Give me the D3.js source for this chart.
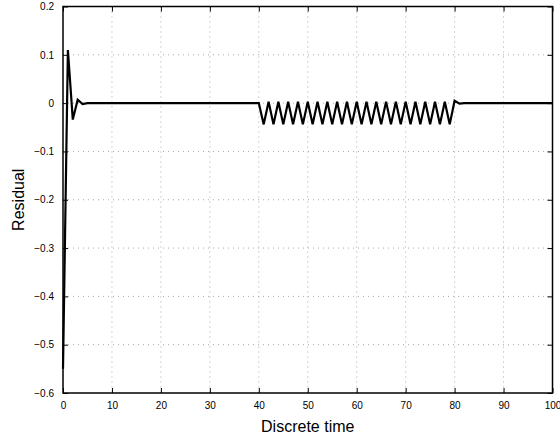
<!DOCTYPE html>
<html>
<head>
<meta charset="utf-8">
<script src="https://cdn.jsdelivr.net/npm/d3@7"></script>
<style>
  body { margin: 0; background: #fff; }
  svg { display: block; font-family: "Liberation Sans", Arial, sans-serif; }
</style>
</head>
<body>
<svg id="chart" width="560" height="441"></svg>
<script>
// residual r(k), k = 0..100
const time = d3.range(0, 101);
const residual = [
  -0.55, 0.11, -0.034, 0.007, -0.002, 0.0, 0.0, 0.0, 0.0, 0.0,
  0.0, 0.0, 0.0, 0.0, 0.0, 0.0, 0.0, 0.0, 0.0, 0.0,
  0.0, 0.0, 0.0, 0.0, 0.0, 0.0, 0.0, 0.0, 0.0, 0.0,
  0.0, 0.0, 0.0, 0.0, 0.0, 0.0, 0.0, 0.0, 0.0, 0.0,
  0.0, -0.044, 0.003, -0.044, 0.003, -0.044, 0.003, -0.044, 0.003, -0.044,
  0.003, -0.044, 0.003, -0.044, 0.003, -0.044, 0.003, -0.044, 0.003, -0.044,
  0.003, -0.044, 0.003, -0.044, 0.003, -0.044, 0.003, -0.044, 0.003, -0.044,
  0.003, -0.044, 0.003, -0.044, 0.003, -0.044, 0.003, -0.044, 0.003, -0.044,
  0.005, -0.001, 0.0, 0.0, 0.0, 0.0, 0.0, 0.0, 0.0, 0.0,
  0.0, 0.0, 0.0, 0.0, 0.0, 0.0, 0.0, 0.0, 0.0, 0.0,
  0.0
];
const xTicks = [0, 10, 20, 30, 40, 50, 60, 70, 80, 90, 100];
const yTicks = [-0.6, -0.5, -0.4, -0.3, -0.2, -0.1, 0, 0.1, 0.2];

const svg = d3.select("#chart");
const margin = { top: 6.5, right: 7.5, bottom: 48, left: 63 };
const width = 560 - margin.left - margin.right;
const height = 441 - margin.top - margin.bottom;

const g = svg.append("g").attr("transform", `translate(${margin.left},${margin.top})`);

const x = d3.scaleLinear().domain([0, 100]).range([0, width]);
const y = d3.scaleLinear().domain([-0.6, 0.2]).range([height, 0]);

const fmtY = (d) => (d === 0 ? "0" : d3.format(".1f")(d).replace("-", "\u2212"));

// dotted grid
g.append("g")
  .selectAll("line")
  .data(xTicks.slice(1, -1))
  .join("line")
  .attr("x1", (d) => x(d)).attr("x2", (d) => x(d))
  .attr("y1", 0).attr("y2", height)
  .attr("stroke", "#a8a8a8").attr("stroke-width", 1)
  .attr("stroke-dasharray", "1,4");

g.append("g")
  .selectAll("line")
  .data(yTicks.slice(1, -1))
  .join("line")
  .attr("x1", 0).attr("x2", width)
  .attr("y1", (d) => y(d)).attr("y2", (d) => y(d))
  .attr("stroke", "#a8a8a8").attr("stroke-width", 1)
  .attr("stroke-dasharray", "1,4");

// axes, ticks inward
const axisStyle = (sel) => {
  sel.select(".domain").remove();
  sel.selectAll(".tick line").attr("stroke", "#000");
  sel.selectAll(".tick text").attr("fill", "#000").attr("font-size", 10);
};

g.append("g")
  .attr("transform", `translate(0,${height})`)
  .call(d3.axisBottom(x).tickValues(xTicks).tickSize(-5).tickPadding(9).tickFormat(d3.format("d")))
  .call(axisStyle);

g.append("g")
  .call(d3.axisTop(x).tickValues(xTicks).tickSize(-5).tickFormat(""))
  .call(axisStyle);

g.append("g")
  .call(d3.axisLeft(y).tickValues(yTicks).tickSize(-5).tickPadding(9).tickFormat(fmtY))
  .call(axisStyle);

g.append("g")
  .attr("transform", `translate(${width},0)`)
  .call(d3.axisRight(y).tickValues(yTicks).tickSize(-5).tickFormat(""))
  .call(axisStyle);

// box
g.append("rect")
  .attr("width", width).attr("height", height)
  .attr("fill", "none").attr("stroke", "#000").attr("stroke-width", 1.5);

// residual line
const line = d3.line()
  .x((d, i) => x(time[i]))
  .y((d) => y(d));

g.append("path")
  .datum(residual)
  .attr("fill", "none")
  .attr("stroke", "#000")
  .attr("stroke-width", 2.2)
  .attr("stroke-linejoin", "miter")
  .attr("d", line);

// labels
svg.append("text")
  .attr("x", margin.left + width / 2)
  .attr("y", 432)
  .attr("text-anchor", "middle")
  .attr("font-size", 16)
  .text("Discrete time");

svg.append("text")
  .attr("transform", `translate(24,${margin.top + height / 2}) rotate(-90)`)
  .attr("text-anchor", "middle")
  .attr("font-size", 16)
  .text("Residual");
</script>
</body>
</html>
